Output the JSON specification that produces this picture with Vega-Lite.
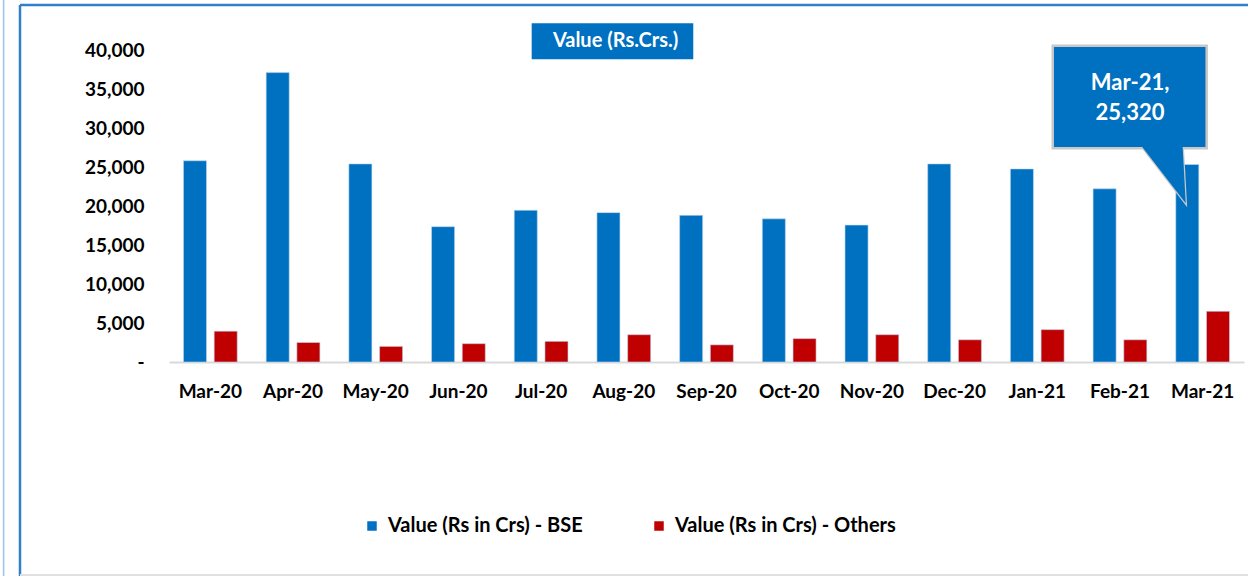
{
  "$schema": "https://vega.github.io/schema/vega-lite/v6.json",
  "width": 1075,
  "height": 312,
  "autosize": {"type": "none"},
  "padding": {"left": 169, "top": 50, "right": 4, "bottom": 214},
  "background": "white",
  "config": {
    "view": {"stroke": null},
    "font": "Lato",
    "axis": {"labelFont": "Lato", "labelFontWeight": "bold", "labelColor": "#000000"},
    "legend": {"labelFont": "Lato", "labelFontWeight": "bold"}
  },
  "datasets": {
    "main": [
      {"month": "Mar-20", "series": "Value (Rs in Crs) - BSE", "value": 25800},
      {"month": "Apr-20", "series": "Value (Rs in Crs) - BSE", "value": 37100},
      {"month": "May-20", "series": "Value (Rs in Crs) - BSE", "value": 25400},
      {"month": "Jun-20", "series": "Value (Rs in Crs) - BSE", "value": 17350},
      {"month": "Jul-20", "series": "Value (Rs in Crs) - BSE", "value": 19450},
      {"month": "Aug-20", "series": "Value (Rs in Crs) - BSE", "value": 19150},
      {"month": "Sep-20", "series": "Value (Rs in Crs) - BSE", "value": 18800},
      {"month": "Oct-20", "series": "Value (Rs in Crs) - BSE", "value": 18350},
      {"month": "Nov-20", "series": "Value (Rs in Crs) - BSE", "value": 17550},
      {"month": "Dec-20", "series": "Value (Rs in Crs) - BSE", "value": 25400},
      {"month": "Jan-21", "series": "Value (Rs in Crs) - BSE", "value": 24750},
      {"month": "Feb-21", "series": "Value (Rs in Crs) - BSE", "value": 22200},
      {"month": "Mar-21", "series": "Value (Rs in Crs) - BSE", "value": 25320},
      {"month": "Mar-20", "series": "Value (Rs in Crs) - Others", "value": 3950},
      {"month": "Apr-20", "series": "Value (Rs in Crs) - Others", "value": 2500},
      {"month": "May-20", "series": "Value (Rs in Crs) - Others", "value": 2000},
      {"month": "Jun-20", "series": "Value (Rs in Crs) - Others", "value": 2350},
      {"month": "Jul-20", "series": "Value (Rs in Crs) - Others", "value": 2650},
      {"month": "Aug-20", "series": "Value (Rs in Crs) - Others", "value": 3500},
      {"month": "Sep-20", "series": "Value (Rs in Crs) - Others", "value": 2200},
      {"month": "Oct-20", "series": "Value (Rs in Crs) - Others", "value": 3000},
      {"month": "Nov-20", "series": "Value (Rs in Crs) - Others", "value": 3500},
      {"month": "Dec-20", "series": "Value (Rs in Crs) - Others", "value": 2850},
      {"month": "Jan-21", "series": "Value (Rs in Crs) - Others", "value": 4150},
      {"month": "Feb-21", "series": "Value (Rs in Crs) - Others", "value": 2850},
      {"month": "Mar-21", "series": "Value (Rs in Crs) - Others", "value": 6500}
    ],
    "frameBlue": [
      {"x1": -1.802, "x2": 13.2, "y1": 45770, "y2": 45770},
      {"x1": -1.802, "x2": -1.802, "y1": 45770, "y2": -27500}
    ],
    "frameGray": [
      {"x1": -1.802, "x2": 13.2, "y1": -27308, "y2": -27308}
    ],
    "frameFaint": [
      {"x1": -2.0, "x2": -2.0, "y1": 46500, "y2": -27500}
    ],
    "titleBox": [
      {"x1": 4.386, "x2": 6.340, "y1": 43422, "y2": 38806, "tx": 5.40, "ty": 41114, "label": "Value (Rs.Crs.)"}
    ],
    "callBox": [
      {"x1": 10.687, "x2": 12.549, "y1": 40551, "y2": 27397}
    ],
    "callPointer": [
      {"y": 27700, "xl": 11.760, "xr": 12.2575},
      {"y": 20345, "xl": 12.295, "xr": 12.295}
    ],
    "callOutline": [
      {"o": 1, "x": 11.782, "y": 27397},
      {"o": 2, "x": 12.295, "y": 20345},
      {"o": 3, "x": 12.259, "y": 27397}
    ],
    "callText": [
      {"x": 11.622, "y": 35729, "label": "Mar-21,"},
      {"x": 11.622, "y": 31883, "label": "25,320"}
    ]
  },
  "layer": [
    {
      "data": {"name": "main"},
      "mark": {"type": "bar", "stroke": "#BDD7EE", "strokeWidth": 0.6},
      "encoding": {
        "x": {
          "field": "month", "type": "nominal", "sort": null,
          "scale": {"paddingInner": 0.35, "paddingOuter": 0.175},
          "axis": {
            "title": null, "labelAngle": 0, "labelFontSize": 19, "labelPadding": 20,
            "ticks": false, "domainColor": "#D9D9D9", "domainWidth": 2, "grid": false
          }
        },
        "xOffset": {"field": "series", "type": "nominal", "sort": null, "scale": {"paddingInner": 0.25, "paddingOuter": 0}},
        "y": {
          "field": "value", "type": "quantitative",
          "scale": {"domain": [0, 40000], "nice": false},
          "axis": {
            "title": null, "domain": false, "ticks": false, "grid": false,
            "values": [0, 5000, 10000, 15000, 20000, 25000, 30000, 35000, 40000],
            "labelExpr": "datum.value == 0 ? '-\u00a0\u00a0\u00a0' : format(datum.value, ',')",
            "labelFontSize": 19, "labelPadding": 25
          }
        },
        "color": {
          "field": "series", "type": "nominal", "sort": null,
          "scale": {"range": ["#0070C0", "#C00000"]},
          "legend": {
            "title": null, "orient": "none", "direction": "horizontal",
            "legendX": 193, "legendY": 466,
            "symbolType": "square", "symbolSize": 90, "symbolStrokeWidth": 0,
            "labelFontSize": 20, "labelColor": "#000000", "columnPadding": 66,
            "labelOffset": 6, "labelLimit": 500
          }
        }
      }
    },
    {
      "layer": [
        {
          "data": {"name": "frameFaint"},
          "mark": {"type": "rule", "color": "#9DC3E6", "strokeWidth": 1.5},
          "encoding": {
            "x": {"field": "x1", "type": "quantitative", "scale": {"domain": [0, 13], "nice": false, "zero": false}, "axis": null},
            "x2": {"field": "x2"},
            "y": {"field": "y1", "type": "quantitative", "scale": {"domain": [0, 40000], "nice": false}, "axis": null},
            "y2": {"field": "y2"}
          }
        },
        {
          "data": {"name": "frameBlue"},
          "mark": {"type": "rule", "color": "#2F80C8", "strokeWidth": 2.5},
          "encoding": {
            "x": {"field": "x1", "type": "quantitative", "axis": null},
            "x2": {"field": "x2"},
            "y": {"field": "y1", "type": "quantitative", "axis": null},
            "y2": {"field": "y2"}
          }
        },
        {
          "data": {"name": "frameGray"},
          "mark": {"type": "rule", "color": "#E0E0E0", "strokeWidth": 2},
          "encoding": {
            "x": {"field": "x1", "type": "quantitative", "axis": null},
            "x2": {"field": "x2"},
            "y": {"field": "y1", "type": "quantitative", "axis": null},
            "y2": {"field": "y2"}
          }
        },
        {
          "data": {"name": "titleBox"},
          "mark": {"type": "rect", "color": "#0070C0"},
          "encoding": {
            "x": {"field": "x1", "type": "quantitative", "axis": null},
            "x2": {"field": "x2"},
            "y": {"field": "y1", "type": "quantitative", "axis": null},
            "y2": {"field": "y2"}
          }
        },
        {
          "data": {"name": "titleBox"},
          "mark": {"type": "text", "color": "white", "fontSize": 20, "fontWeight": "bold", "font": "Lato", "align": "center", "baseline": "middle"},
          "encoding": {
            "x": {"field": "tx", "type": "quantitative", "axis": null},
            "y": {"field": "ty", "type": "quantitative", "axis": null},
            "text": {"field": "label"}
          }
        },
        {
          "data": {"name": "callBox"},
          "mark": {"type": "rect", "fill": "#0070C0", "stroke": "#C8C8C8", "strokeWidth": 2.5},
          "encoding": {
            "x": {"field": "x1", "type": "quantitative", "axis": null},
            "x2": {"field": "x2"},
            "y": {"field": "y1", "type": "quantitative", "axis": null},
            "y2": {"field": "y2"}
          }
        },
        {
          "data": {"name": "callOutline"},
          "mark": {"type": "line", "color": "#C8C8C8", "strokeWidth": 2.5},
          "encoding": {
            "x": {"field": "x", "type": "quantitative", "axis": null},
            "y": {"field": "y", "type": "quantitative", "axis": null},
            "order": {"field": "o"}
          }
        },
        {
          "data": {"name": "callPointer"},
          "mark": {"type": "area", "orient": "horizontal", "color": "#0070C0"},
          "encoding": {
            "y": {"field": "y", "type": "quantitative", "axis": null},
            "x": {"field": "xl", "type": "quantitative", "axis": null},
            "x2": {"field": "xr"}
          }
        },
        {
          "data": {"name": "callText"},
          "mark": {"type": "text", "color": "white", "fontSize": 22, "fontWeight": "bold", "font": "Lato", "align": "center", "baseline": "middle"},
          "encoding": {
            "x": {"field": "x", "type": "quantitative", "axis": null},
            "y": {"field": "y", "type": "quantitative", "axis": null},
            "text": {"field": "label"}
          }
        }
      ]
    }
  ],
  "resolve": {"scale": {"x": "independent"}, "axis": {"y": "independent"}}
}
